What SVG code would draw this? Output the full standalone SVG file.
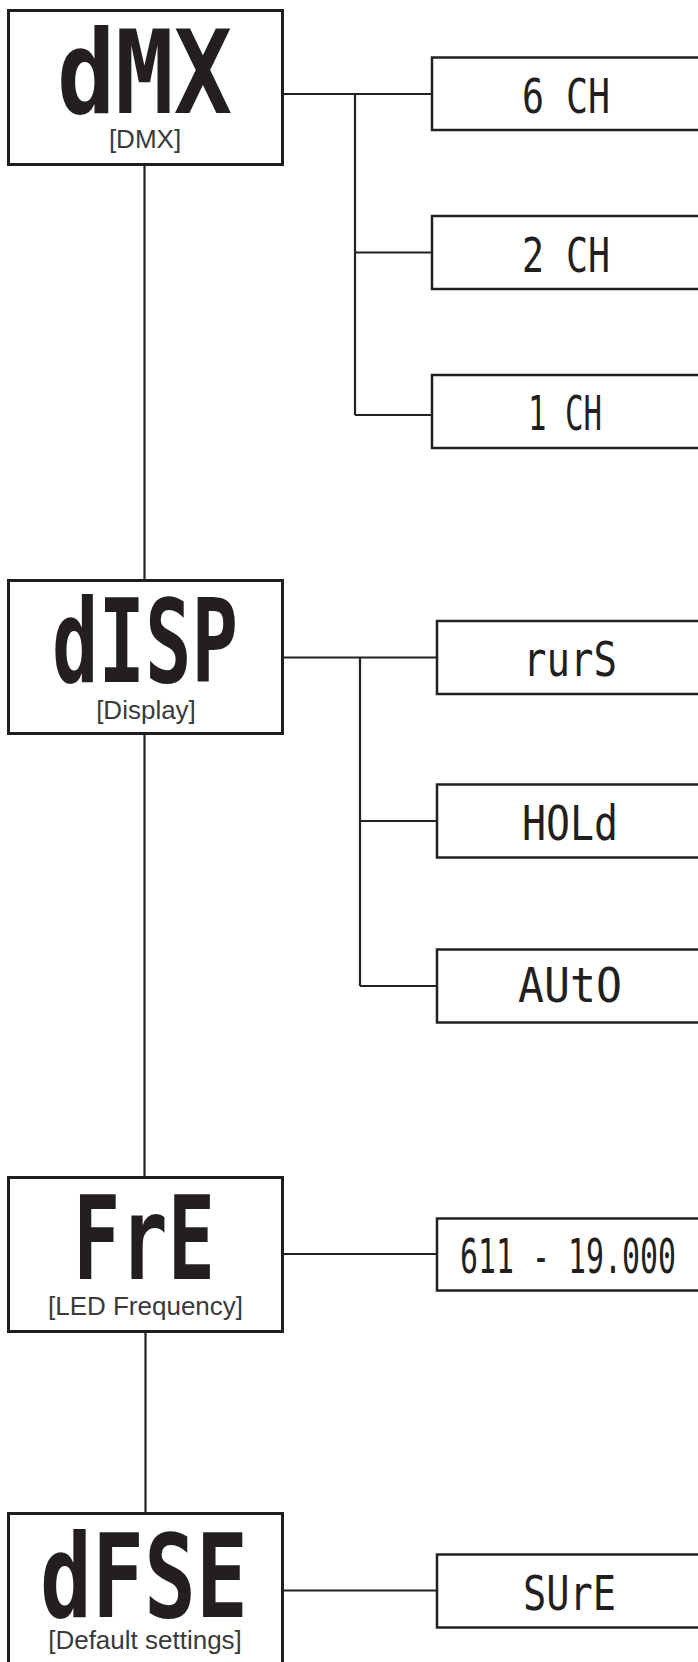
<svg xmlns="http://www.w3.org/2000/svg" width="698" height="1662" viewBox="0 0 698 1662">
<style>
.main{fill:#fff;stroke:#1e1e1b;stroke-width:3}
.sub{fill:#fff;stroke:#222;stroke-width:2.5}
.con{fill:none;stroke:#222;stroke-width:2.2}
.seg{font-family:"DejaVu Sans Mono","Liberation Mono",monospace;font-weight:bold;font-size:115px;fill:#231f20}
.segs{font-family:"DejaVu Sans Mono","Liberation Mono",monospace;font-size:48px;fill:#231f20}
.lbl{font-family:"Liberation Sans",Arial,sans-serif;font-size:26px;fill:#3a3a3a;text-anchor:middle}
</style>
<rect width="698" height="1662" fill="#fff"/>
<g id="connectors">
<path class="con" d="M144.5 165V580M144.5 733V1177M145.5 1332V1513"/>
<path class="con" d="M283 94H432M355 94V415M355 252.5H432M355 415H432"/>
<path class="con" d="M283 657.5H437M360 657.5V986M360 821H437M360 986H437"/>
<path class="con" d="M283 1254H437"/>
<path class="con" d="M283 1590.5H437"/>
</g>
<g id="node-dmx">
<rect class="main" x="8.5" y="10.5" width="274" height="154"/>
<text class="seg" x="57" y="113" textLength="175" lengthAdjust="spacingAndGlyphs">dMX</text>
<text class="lbl" x="145" y="148">[DMX]</text>
</g>
<g id="node-6ch">
<rect class="sub" x="432" y="57.5" width="270" height="72.5"/>
<text class="segs" x="522" y="113" textLength="88" lengthAdjust="spacingAndGlyphs">6 CH</text>
</g>
<g id="node-2ch">
<rect class="sub" x="432" y="216" width="270" height="73"/>
<text class="segs" x="522" y="271.5" textLength="88" lengthAdjust="spacingAndGlyphs">2 CH</text>
</g>
<g id="node-1ch">
<rect class="sub" x="432" y="375" width="270" height="73"/>
<text class="segs" x="528" y="430" textLength="74" lengthAdjust="spacingAndGlyphs">1 CH</text>
</g>
<g id="node-disp">
<rect class="main" x="8.5" y="580.5" width="274" height="153"/>
<text class="seg" x="52" y="682" textLength="186" lengthAdjust="spacingAndGlyphs">dISP</text>
<text class="lbl" x="146" y="719">[Display]</text>
</g>
<g id="node-rurs">
<rect class="sub" x="437" y="621" width="265" height="73"/>
<text class="segs" x="523" y="676" textLength="94" lengthAdjust="spacingAndGlyphs">rurS</text>
</g>
<g id="node-hold">
<rect class="sub" x="437" y="784.5" width="265" height="73"/>
<text class="segs" x="522" y="839.5" textLength="96" lengthAdjust="spacingAndGlyphs">HOLd</text>
</g>
<g id="node-auto">
<rect class="sub" x="437" y="949.5" width="265" height="73"/>
<text class="segs" x="518" y="1001.5" textLength="104" lengthAdjust="spacingAndGlyphs">AUtO</text>
</g>
<g id="node-fre">
<rect class="main" x="8.5" y="1177.5" width="274" height="154"/>
<text class="seg" x="73" y="1279" textLength="142" lengthAdjust="spacingAndGlyphs">FrE</text>
<text class="lbl" x="145.5" y="1315">[LED Frequency]</text>
</g>
<g id="node-freq">
<rect class="sub" x="437" y="1218.5" width="265" height="72"/>
<text class="segs" transform="translate(460 1272.5) scale(1 1.6)" x="0" y="0" style="font-size:30px" textLength="216" lengthAdjust="spacingAndGlyphs">611 - 19.000</text>
</g>
<g id="node-dfse">
<rect class="main" x="8.5" y="1513.5" width="274" height="170"/>
<text class="seg" x="40" y="1617" textLength="208" lengthAdjust="spacingAndGlyphs">dFSE</text>
<text class="lbl" x="145" y="1649">[Default settings]</text>
</g>
<g id="node-sure">
<rect class="sub" x="437" y="1554.5" width="265" height="73"/>
<text class="segs" x="523" y="1610" textLength="93" lengthAdjust="spacingAndGlyphs">SUrE</text>
</g>
</svg>
